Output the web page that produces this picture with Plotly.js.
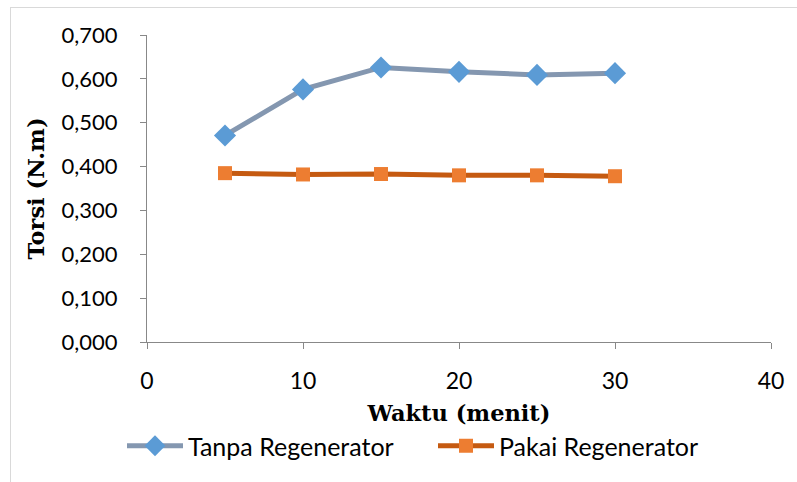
<!DOCTYPE html>
<html>
<head>
<meta charset="utf-8">
<script src="https://cdn.plot.ly/plotly-3.0.1.min.js"></script>
<style>
  html, body { margin: 0; padding: 0; background: #fff; }
  #wrap { position: relative; width: 797px; height: 482px; overflow: hidden; }
  #chart { position: absolute; left: 0; top: 0; width: 797px; height: 482px; }
  #frame { position: absolute; left: 10px; top: 7px; width: 900px; height: 600px;
           border: 1px solid #d9d9d9; pointer-events: none; }
</style>
</head>
<body>
<div id="wrap">
  <div id="chart"></div>
  <div id="frame"></div>
</div>
<script>
const waktu = [5, 10, 15, 20, 25, 30];
const tanpaRegenerator = [0.471, 0.576, 0.626, 0.616, 0.609, 0.613];
const pakaiRegenerator = [0.385, 0.382, 0.383, 0.380, 0.380, 0.378];
const yTickVals = [0, 0.1, 0.2, 0.3, 0.4, 0.5, 0.6, 0.7];
const yTickText = ['0,000', '0,100', '0,200', '0,300', '0,400', '0,500', '0,600', '0,700'];
const xTickVals = [0, 10, 20, 30, 40];

const fam = 'Lato, "Open Sans", sans-serif';
const yTickFont = { family: fam, size: 22, color: '#000' };
const xTickFont = { family: fam, size: 23, color: '#000' };
const legendFont = { family: fam, size: 25, color: '#000' };
const titleFont = { family: '"DejaVu Serif", "Liberation Serif", serif', size: 22.5, color: '#000', weight: 'bold' };

const traces = [
  {
    x: waktu, y: tanpaRegenerator, name: 'Tanpa Regenerator',
    type: 'scatter', mode: 'lines+markers',
    line: { color: '#8497B0', width: 5 },
    marker: { symbol: 'diamond', size: 17, color: '#5B9BD5' }
  },
  {
    x: waktu, y: pakaiRegenerator, name: 'Pakai Regenerator',
    type: 'scatter', mode: 'lines+markers',
    line: { color: '#C55A11', width: 5 },
    marker: { symbol: 'square', size: 14, color: '#ED7D31' }
  }
];

const layout = {
  width: 797, height: 482,
  margin: { l: 147, r: 26, t: 35, b: 140, autoexpand: false },
  paper_bgcolor: 'rgba(0,0,0,0)', plot_bgcolor: 'rgba(0,0,0,0)',
  showlegend: true,
  legend: {
    orientation: 'h', xref: 'paper', yref: 'paper',
    x: (122 - 147) / 624, xanchor: 'left', y: (342 - 446) / 307, yanchor: 'middle',
    font: legendFont, itemwidth: 56, entrywidth: 240, entrywidthmode: 'pixels',
    traceorder: 'normal', bgcolor: 'rgba(0,0,0,0)'
  },
  xaxis: {
    range: [0, 40], tickvals: xTickVals, ticks: 'outside', ticklen: 6,
    tickcolor: '#888', showline: true, linecolor: '#888', linewidth: 1,
    showgrid: false, zeroline: false, tickfont: xTickFont, ticklabelstandoff: 12,
    automargin: true,
    title: { text: 'Waktu (menit)', font: titleFont, standoff: 12 }
  },
  yaxis: {
    range: [0, 0.7], tickvals: yTickVals, ticktext: yTickText, ticks: 'outside', ticklen: 6,
    tickcolor: '#888', showline: true, linecolor: '#888', linewidth: 1,
    showgrid: false, zeroline: false, tickfont: yTickFont, ticklabelstandoff: 18,
    automargin: true,
    title: { text: 'Torsi (N.m)', font: titleFont, standoff: 10 }
  }
};

Plotly.newPlot('chart', traces, layout, { displayModeBar: false, staticPlot: true });
</script>
</body>
</html>
